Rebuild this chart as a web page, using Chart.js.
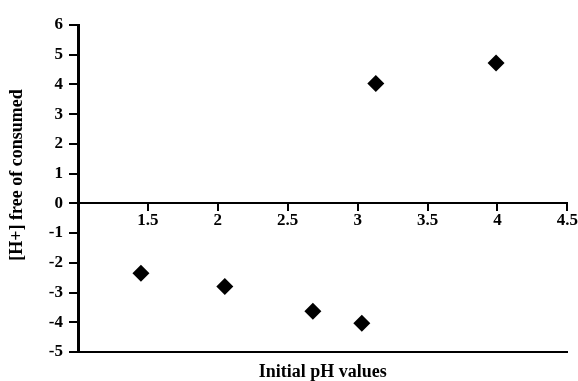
<!DOCTYPE html>
<html>
<head>
<meta charset="utf-8">
<script src="https://cdn.jsdelivr.net/npm/chart.js@4/dist/chart.umd.min.js"></script>
<style>
  html, body { margin: 0; padding: 0; background: #fff; }
  #wrap { width: 578px; height: 381px; }
</style>
</head>
<body>
<div id="wrap"><canvas id="c" width="578" height="381"></canvas></div>
<script>
const phValues = [1.45, 2.05, 2.68, 3.03, 3.13, 3.99];
const hValues = [-2.35, -2.8, -3.63, -4.03, 4.03, 4.72];
const xTicks = [1, 1.5, 2, 2.5, 3, 3.5, 4, 4.5];
const yTicks = [-5, -4, -3, -2, -1, 0, 1, 2, 3, 4, 5, 6];
const xTitle = 'Initial pH values';
const yTitle = '[H+] free of consumed';

const points = phValues.map((x, i) => ({ x: x, y: hValues[i] }));
const family = '"Liberation Serif", "Times New Roman", serif';
const tickFont = { family: family, size: 17, weight: 'bold' };
const titleFont = { family: family, size: 18, weight: 'bold' };

new Chart(document.getElementById('c'), {
  type: 'scatter',
  data: {
    datasets: [{
      data: points,
      pointStyle: 'rectRot',
      pointRadius: 8.5,
      pointBackgroundColor: '#000',
      pointBorderColor: '#000',
      pointBorderWidth: 0,
      showLine: false
    }]
  },
  options: {
    responsive: false,
    animation: false,
    layout: { padding: { top: 25, right: 8, left: 0, bottom: 0 } },
    plugins: { legend: { display: false }, tooltip: { enabled: false } },
    scales: {
      x: {
        type: 'linear',
        position: { y: 0 },
        min: xTicks[0],
        max: xTicks[xTicks.length - 1],
        afterBuildTicks: (s) => { s.ticks = xTicks.map(v => ({ value: v })); },
        grid: { drawOnChartArea: false, tickLength: 7, color: '#000', lineWidth: 2 },
        border: { color: '#000', width: 2 },
        ticks: {
          color: '#000', font: tickFont, padding: 0, maxRotation: 0, autoSkip: false,
          callback: (v) => v === xTicks[0] ? '' : String(v)
        }
      },
      xb: {
        type: 'linear',
        position: 'bottom',
        min: xTicks[0],
        max: xTicks[xTicks.length - 1],
        grid: { display: false },
        border: { display: true, color: '#000', width: 2 },
        ticks: { display: false },
        title: { display: true, text: xTitle, color: '#000', font: titleFont, padding: { top: 0, bottom: -2 } },
        afterFit: (s) => { s.height = 29; }
      },
      y: {
        type: 'linear',
        position: 'left',
        min: yTicks[0],
        max: yTicks[yTicks.length - 1],
        afterBuildTicks: (s) => { s.ticks = yTicks.map(v => ({ value: v })); },
        grid: { drawOnChartArea: false, tickLength: 9, color: '#000', lineWidth: 2 },
        border: { color: '#000', width: 3 },
        ticks: { color: '#000', font: tickFont, padding: 6, autoSkip: false },
        title: { display: true, text: '      ' + yTitle, color: '#000', font: titleFont, padding: { top: 7, bottom: 0 } },
        afterFit: (s) => { s.width = 78; }
      }
    }
  }
});
</script>
</body>
</html>
